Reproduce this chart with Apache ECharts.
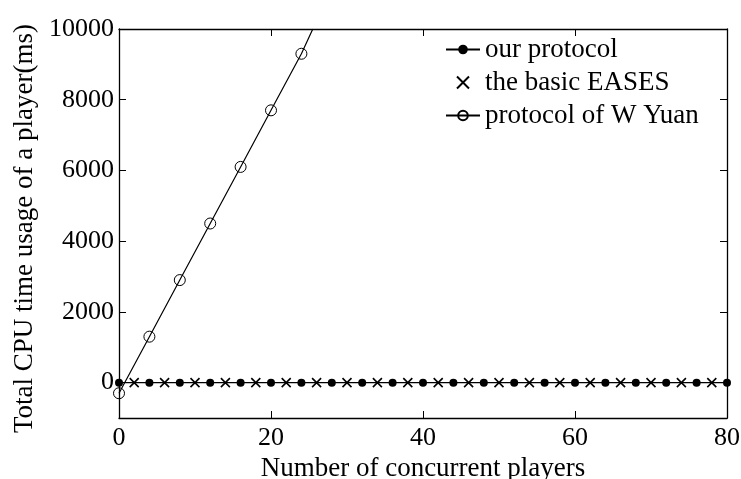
<!DOCTYPE html>
<html>
<head>
<meta charset="utf-8">
<script src="https://cdn.jsdelivr.net/npm/echarts@6/dist/echarts.min.js"></script>
<style>html,body{margin:0;padding:0;background:#fff;}#c{width:741px;height:479px;}</style>
</head>
<body>
<div id="c"></div>
<script>
// ---- data ----
const ourX = [0, 4, 8, 12, 16, 20, 24, 28, 32, 36, 40, 44, 48, 52, 56, 60, 64, 68, 72, 76, 80];
const ourY = [0, 0, 0, 0, 0, 0, 0, 0, 0, 0, 0, 0, 0, 0, 0, 0, 0, 0, 0, 0, 0];
const easesX = [2, 6, 10, 14, 18, 22, 26, 30, 34, 38, 42, 46, 50, 54, 58, 62, 66, 70, 74, 78];
const easesY = [0, 0, 0, 0, 0, 0, 0, 0, 0, 0, 0, 0, 0, 0, 0, 0, 0, 0, 0, 0];
const yuanX = [0, 4, 8, 12, 16, 20, 24];
const yuanY = [-300, 1300, 2900, 4500, 6100, 7700, 9300];
const yuanEndX = 25.5;     // where the line leaves the top of the plot
const yuanEndY = 10000;
const xTicks = [0, 20, 40, 60, 80];
const yTicks = [0, 2000, 4000, 6000, 8000, 10000];
const names = ['our protocol', 'the basic EASES', 'protocol of W Yuan'];
const xTitle = 'Number of concurrent players';
const yTitle = 'Total CPU time usage of a player(ms)';

const FONT = 'Liberation Serif';
const pair = (xs, ys) => xs.map((x, i) => [x, ys[i]]);
const yuanData = pair(yuanX, yuanY);
yuanData.push({ value: [yuanEndX, yuanEndY], symbol: 'none' });

const axisLineStyle = { color: '#000', width: 1.3 };
const tickStyle = { color: '#000', width: 1 };
const plain = v => String(v);

const chart = echarts.init(document.getElementById('c'), null, { renderer: 'canvas' });
chart.setOption({
  backgroundColor: '#fff',
  animation: false,
  textStyle: { fontFamily: FONT, color: '#000' },
  grid: { left: 119, right: 14, top: 29, bottom: 61, containLabel: false, outerBoundsMode: 'none' },
  legend: {
    orient: 'vertical',
    left: 440,
    top: 31,
    itemWidth: 34,
    itemHeight: 12,
    itemGap: 6,
    textStyle: { fontFamily: FONT, fontSize: 27, lineHeight: 27, color: '#000' },
    data: names
  },
  xAxis: [
    {
      type: 'value', min: xTicks[0], max: xTicks[xTicks.length - 1], interval: 20,
      position: 'bottom',
      axisLine: { show: true, onZero: false, lineStyle: axisLineStyle },
      axisTick: { show: true, inside: true, length: 7, lineStyle: tickStyle },
      axisLabel: { show: true, fontFamily: FONT, fontSize: 26, color: '#000', margin: 7, formatter: plain },
      splitLine: { show: false },
      name: xTitle, nameLocation: 'middle', nameGap: 35,
      nameTextStyle: { fontFamily: FONT, fontSize: 27, color: '#000' }
    },
    {
      type: 'value', min: xTicks[0], max: xTicks[xTicks.length - 1], interval: 20,
      position: 'top',
      axisLine: { show: true, onZero: false, lineStyle: axisLineStyle },
      axisTick: { show: true, inside: true, length: 7, lineStyle: tickStyle },
      axisLabel: { show: false },
      splitLine: { show: false }
    }
  ],
  yAxis: [
    {
      type: 'value', min: -1000, max: 10000,
      position: 'left',
      axisLine: { show: true, onZero: false, lineStyle: axisLineStyle },
      axisTick: { show: true, inside: true, length: 7, lineStyle: tickStyle, customValues: yTicks },
      axisLabel: { show: true, fontFamily: FONT, fontSize: 26, color: '#000', margin: 5, customValues: yTicks, formatter: plain },
      splitLine: { show: false },
      name: yTitle, nameLocation: 'middle', nameGap: 76, nameRotate: 90,
      nameTextStyle: { fontFamily: FONT, fontSize: 27, color: '#000', padding: [0, 10, 0, 0] }
    },
    {
      type: 'value', min: -1000, max: 10000,
      position: 'right',
      axisLine: { show: true, onZero: false, lineStyle: axisLineStyle },
      axisTick: { show: true, inside: true, length: 7, lineStyle: tickStyle, customValues: yTicks },
      axisLabel: { show: false },
      splitLine: { show: false }
    }
  ],
  series: [
    {
      name: names[0], type: 'line', xAxisIndex: 0, yAxisIndex: 0,
      data: pair(ourX, ourY),
      symbol: 'circle', symbolSize: 8, showAllSymbol: true,
      lineStyle: { color: '#000', width: 1.2 },
      itemStyle: { color: '#000' },
      z: 3
    },
    {
      name: names[1], type: 'scatter', xAxisIndex: 0, yAxisIndex: 0,
      data: pair(easesX, easesY),
      symbol: 'path://M0,0L10,10M10,0L0,10', symbolSize: 9,
      itemStyle: { color: 'transparent', borderColor: '#000', borderWidth: 1.6, opacity: 1 },
      z: 3
    },
    {
      name: names[2], type: 'line', xAxisIndex: 0, yAxisIndex: 0,
      data: yuanData, clip: true,
      symbol: 'circle', symbolSize: 11, showAllSymbol: true,
      lineStyle: { color: '#000', width: 1.2 },
      itemStyle: { color: 'transparent', borderColor: '#000', borderWidth: 1 },
      z: 2
    }
  ]
});
</script>
</body>
</html>
